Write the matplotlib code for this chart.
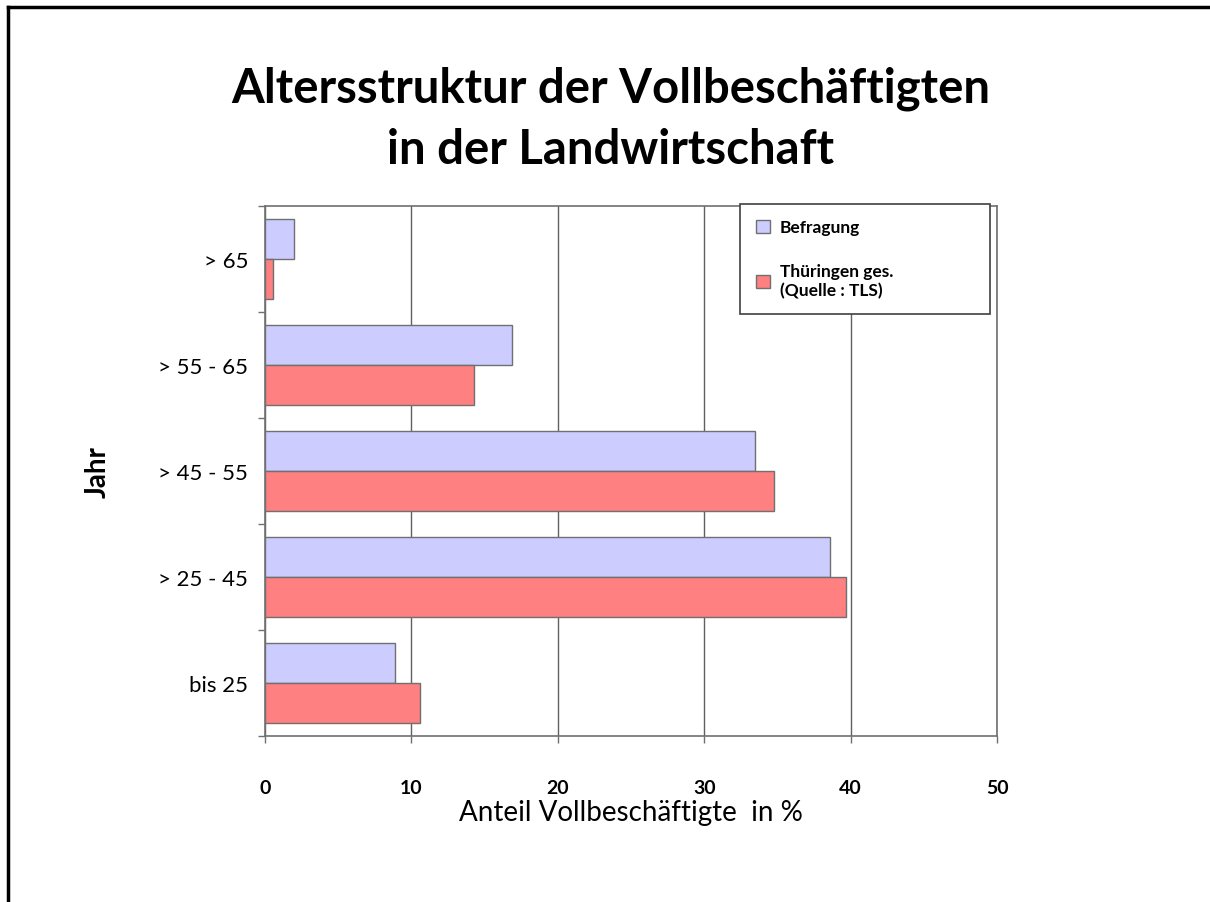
import numpy as np
import matplotlib
matplotlib.use('Agg')
from matplotlib import pyplot as plt
from matplotlib.lines import Line2D

plt.rcParams['font.family'] = ['Lato', 'DejaVu Sans']

# Altersgruppen von unten nach oben
categories = ['bis 25', '> 25 - 45', '> 45 - 55', '> 55 - 65', '> 65']
befragung = [8.9, 38.6, 33.5, 16.9, 2.0]
thueringen = [10.6, 39.7, 34.8, 14.3, 0.55]
x_ticks = [0, 10, 20, 30, 40, 50]

COLOR_BEFRAGUNG = '#CCCCFF'
COLOR_THUERINGEN = '#FF8080'
EDGE = '#707070'

fig = plt.figure(figsize=(12.1, 9.03), dpi=100)
ax = fig.add_axes([0.219, 0.1838, 0.605, 0.587])

pos = np.arange(len(categories))
h = 0.38
ax.barh(pos + h / 2, befragung, height=h, color=COLOR_BEFRAGUNG, edgecolor=EDGE,
        linewidth=1, label='Befragung', zorder=3)
ax.barh(pos - h / 2, thueringen, height=h, color=COLOR_THUERINGEN, edgecolor=EDGE,
        linewidth=1, label='Thüringen ges.\n(Quelle : TLS)', zorder=3)

ax.set_xlim(0, 50)
ax.set_ylim(-0.5, len(categories) - 0.5)
ax.set_xticks(x_ticks)
ax.set_xticklabels([str(t) for t in x_ticks], fontsize=14, fontweight='bold')
ax.tick_params(axis='x', length=5, width=1, color='#707070', pad=26)
ax.set_yticks(pos)
ax.set_yticklabels(categories, fontsize=16)
ax.tick_params(axis='y', length=0, pad=12)
ax.set_yticks(np.arange(-0.5, len(categories), 1), minor=True)
ax.tick_params(axis='y', which='minor', length=5, width=1, color='#707070')

ax.grid(axis='x', color='#606060', linewidth=1, zorder=0)
for s in ax.spines.values():
    s.set_color('#707070')
    s.set_linewidth(1.2)

ax.set_xlabel('Anteil Vollbeschäftigte  in %', fontsize=20, labelpad=2)
ax.set_ylabel('Jahr', fontsize=20, fontweight='bold', labelpad=34)

leg = ax.legend(loc='upper left', bbox_to_anchor=(0.649, 0.796, 0.342, 0.208),
                mode='expand', borderaxespad=0, fancybox=False, framealpha=1,
                edgecolor='#404040', fontsize=12.5, handlelength=0.8, handleheight=0.8,
                handletextpad=0.6, labelspacing=1.6, borderpad=0.9)
leg.get_frame().set_linewidth(1.2)
for t in leg.get_texts():
    t.set_fontweight('bold')
leg.set_zorder(5)

fig.text(0.505, 0.868, 'Altersstruktur der Vollbeschäftigten\nin der Landwirtschaft',
         ha='center', va='center', fontsize=34, fontweight='bold', linespacing=1.45)

# schwarzer Rahmen oben und links
fig.add_artist(Line2D([8 / 1210, 1.0], [1 - 8 / 903, 1 - 8 / 903], color='black', linewidth=2.5,
                      transform=fig.transFigure))
fig.add_artist(Line2D([8 / 1210, 8 / 1210], [0.0, 1 - 8 / 903], color='black', linewidth=2.5,
                      transform=fig.transFigure))

fig.savefig('out.png', dpi=100)
